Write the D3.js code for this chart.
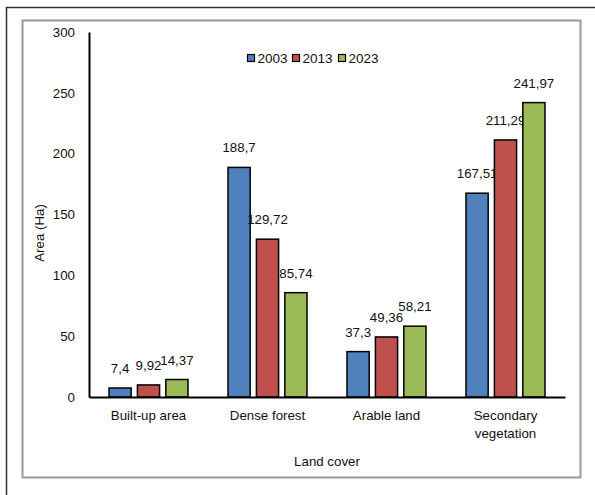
<!DOCTYPE html>
<html>
<head>
<meta charset="utf-8">
<script src="https://cdn.jsdelivr.net/npm/d3@7"></script>
<style>
  body { margin: 0; background: #fff; }
  text { font-family: "Liberation Sans", Arial, sans-serif; fill: #111; }
</style>
</head>
<body>
<svg id="chart" width="595" height="495"></svg>
<script>
// chart data
var categories = ["Built-up area", "Dense forest", "Arable land", "Secondary vegetation"];
var years = ["2003", "2013", "2023"];
var values2003 = [7.4, 188.7, 37.3, 167.51];
var values2013 = [9.92, 129.72, 49.36, 211.29];
var values2023 = [14.37, 85.74, 58.21, 241.97];
var yTicks = [0, 50, 100, 150, 200, 250, 300];
var colors = ["#4F81BD", "#C0504D", "#9BBB59"];

var series = [values2003, values2013, values2023];

var svg = d3.select("#chart"),
  margin = {top: 32, left: 89, right: 30, bottom: 98},
  width = 565 - margin.left,
  height = 397 - margin.top,
  fontSize = "13.3px";

// outer frame (left + top only visible)
svg.append("path")
   .attr("d", "M6.5,495 V7.5 H595")
   .attr("fill", "none")
   .attr("stroke", "#333")
   .attr("stroke-width", 1.5);

// inner chart box
svg.append("rect")
   .attr("x", 22.5).attr("y", 20.5)
   .attr("width", 558).attr("height", 457)
   .attr("fill", "none")
   .attr("stroke", "#999")
   .attr("stroke-width", 2);

var g = svg.append("g")
  .attr("transform", "translate(" + margin.left + "," + margin.top + ")");

var xScale = d3.scaleBand()
  .domain(categories)
  .range([0, width]);

var xInner = d3.scaleBand()
  .domain(years)
  .range([0, 79])
  .paddingInner(0.22);

var yScale = d3.scaleLinear()
  .domain([0, 300])
  .range([height, 0]);

// bars
var groups = g.selectAll(".group")
  .data(categories)
  .enter().append("g")
  .attr("class", "group")
  .attr("transform", function(d){
    return "translate(" + (xScale(d) + xScale.bandwidth() / 2 - 39.5) + ",0)";
  });

groups.each(function(cat, ci){
  var grp = d3.select(this);
  years.forEach(function(yr, si){
    var v = series[si][ci];
    grp.append("rect")
       .attr("x", xInner(yr))
       .attr("y", yScale(v))
       .attr("width", xInner.bandwidth())
       .attr("height", height - yScale(v))
       .attr("fill", colors[si])
       .attr("stroke", "#000")
       .attr("stroke-width", 1.5);
    grp.append("text")
       .attr("x", xInner(yr) + xInner.bandwidth() / 2)
       .attr("y", yScale(v) - 15)
       .attr("text-anchor", "middle")
       .style("font-size", fontSize)
       .text(String(v).replace(".", ","));
  });
});

// y axis
var yAxis = g.append("g")
  .call(d3.axisLeft(yScale).tickValues(yTicks).tickSize(0).tickPadding(14));
yAxis.select(".domain").attr("stroke", "#000").attr("stroke-width", 2);
yAxis.selectAll("text")
  .style("font-size", fontSize)
  .style("font-family", "Liberation Sans, Arial, sans-serif")
  .attr("fill", "#111");

// x axis
var xAxis = g.append("g")
  .attr("transform", "translate(0," + height + ")")
  .call(d3.axisBottom(xScale).tickSize(0).tickPadding(14));
xAxis.select(".domain").attr("stroke", "#000").attr("stroke-width", 2);
xAxis.selectAll("text")
  .style("font-size", fontSize)
  .style("font-family", "Liberation Sans, Arial, sans-serif")
  .attr("fill", "#111")
  .each(function(d){
    if (d === "Secondary vegetation") {
      var t = d3.select(this);
      t.text(null);
      t.append("tspan").attr("x", 0).attr("dy", "0.71em").text("Secondary");
      t.append("tspan").attr("x", 0).attr("dy", "1.35em").text("vegetation");
      t.attr("dy", null);
    }
  });

// axis titles
svg.append("text")
   .attr("transform", "translate(44,233) rotate(-90)")
   .attr("text-anchor", "middle")
   .style("font-size", fontSize)
   .text("Area (Ha)");

svg.append("text")
   .attr("x", 327)
   .attr("y", 466)
   .attr("text-anchor", "middle")
   .style("font-size", fontSize)
   .text("Land cover");

// legend
var legendX = [247, 292, 338];
var legend = svg.append("g");
years.forEach(function(yr, i){
  legend.append("rect")
        .attr("x", legendX[i] + 0.5).attr("y", 54.5)
        .attr("width", 7).attr("height", 7)
        .attr("fill", colors[i])
        .attr("stroke", "#000")
        .attr("stroke-width", 1.2);
  legend.append("text")
        .attr("x", legendX[i] + 10.5)
        .attr("y", 63)
        .style("font-size", "13.5px")
        .text(yr);
});
</script>
</body>
</html>
